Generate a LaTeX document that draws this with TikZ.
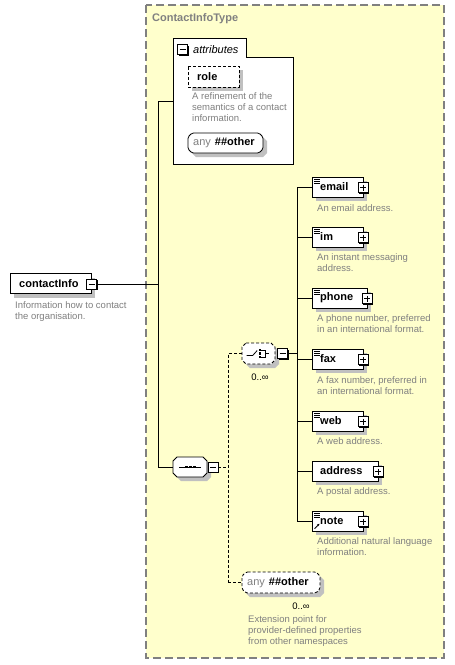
\documentclass[tikz,border=0pt]{standalone}
\usepackage{fontspec}
\setmainfont{Liberation Sans}
\usetikzlibrary{arrows.meta}
\definecolor{boxyellow}{RGB}{255,255,204}
\definecolor{descgray}{RGB}{128,128,128}
\definecolor{shadowgray}{RGB}{192,192,192}
\definecolor{framegray}{RGB}{128,128,128}
\newcommand\myoct[5]{%
  \fill[shadowgray] (#1+8,#2+4) -- (#3,#2+4) -- (#3+4,#2+8) -- (#3+4,#4) -- (#3,#4+4) -- (#1+8,#4+4) -- (#1+4,#4) -- (#1+4,#2+8) -- cycle;
  \draw[fill=white,line width=0.8pt,#5] (#1+4,#2) -- (#3-4,#2) -- (#3,#2+4) -- (#3,#4-4) -- (#3-4,#4) -- (#1+4,#4) -- (#1,#4-4) -- (#1,#2+4) -- cycle;}
\newcommand\myrect[5]{%
  \fill[shadowgray] (#1+4,#2+4) -- (#3+4,#2+4) -- (#3+4,#4+4) -- (#1+4,#4+4) -- cycle;
  \draw[fill=white,line width=0.8pt,#5] (#1,#2) -- (#3,#2) -- (#3,#4) -- (#1,#4) -- cycle;}
\newcommand\sqshadow[2]{\fill[black] (#1-3.8,#2-3.8) -- (#1+6.2,#2-3.8) -- (#1+6.2,#2+6.2) -- (#1-3.8,#2+6.2) -- cycle;}
\begin{document}
\begin{tikzpicture}[x=1pt,y=-1pt,
  holder/.style={inner sep=0,anchor=west},
  lbl/.style={anchor=west,inner sep=0,xshift=8pt,font=\fontsize{11}{13}\selectfont\bfseries},
  desc/.style={anchor=north west,inner sep=0,align=left,text=descgray,font=\fontsize{9.5}{11}\selectfont},
  sq/.style={draw,fill=white,line width=0.8pt,minimum size=10pt,inner sep=0},
  plusbox/.style={sq,path picture={\draw[line width=0.8pt]
    ([xshift=2pt]path picture bounding box.west) -- ([xshift=-2pt]path picture bounding box.east)
    ([yshift=-2pt]path picture bounding box.north) -- ([yshift=2pt]path picture bounding box.south);}},
  minusbox/.style={sq,path picture={\draw[line width=0.8pt]
    ([xshift=2pt]path picture bounding box.west) -- ([xshift=-2pt]path picture bounding box.east);}},
  sdash/.style={dash pattern=on 3pt off 2pt},
  conn/.style={line width=0.8pt},
  anytxt/.style={anchor=west,inner sep=0,font=\fontsize{11}{13}\selectfont\bfseries},
  mult/.style={inner sep=0,font=\fontsize{9.5}{11}\selectfont}
]
\useasboundingbox[fill=white] (0,0) rectangle (455,665);
% type frame
\draw[framegray,line width=1.2pt,dash pattern=on 8pt off 4pt,fill=boxyellow] (146,5) rectangle (444,658);
\node[anchor=west,inner sep=0,text=descgray,font=\fontsize{11}{13}\selectfont\bfseries] (title) at (152,19) {ContactInfoType};

% contactInfo
\myrect{10}{273.5}{91}{293.5}{}
\node[holder,minimum width=81pt,minimum height=20pt,label={[lbl,xshift=1pt]west:contactInfo}] (ci) at (10,283.5) {};
\sqshadow{91.5}{284}
\node[minusbox] (cim) at (91.5,284) {};
\node[desc] (cid) at (15,301.5) {Information how to contact\\the organisation.};

% attributes
\draw[fill=white,line width=0.8pt] (173,38) -- (246,38) -- (246,57) -- (293,57) -- (293,164) -- (173,164) -- cycle;
\sqshadow{182.5}{49.5}
\node[minusbox] (attrm) at (182.5,49.5) {};
\node[anchor=west,inner sep=0,font=\fontsize{11}{13}\selectfont\itshape] (attrt) at (193,49.5) {attributes};
\myrect{188}{66}{239}{87}{sdash}
\node[holder,minimum width=51pt,minimum height=21pt,label={[lbl,xshift=1pt]west:role}] (role) at (188,76.5) {};
\node[desc] (roled) at (192,92.5) {A refinement of the\\semantics of a contact\\information.};
\myoct{188}{133}{263}{153}{rounded corners=1.5pt}
\node[holder,minimum width=75pt,minimum height=20pt] (anyattr) at (188,143) {};
\node[anytxt] (anyattrt) at (193,143) {{\color{descgray}\mdseries any}\hspace{4pt}\#\#other};

% connectors to the type
\coordinate (b1t) at (158,101);
\coordinate (b1b) at (158,467);
\coordinate (attrL) at (173,101);
\draw[conn] (cim.east) -- (cim.east -| b1t);
\draw[conn] (attrL) -- (b1t) -- (b1b);

% sequence
\myoct{173}{457}{207}{477}{}
\node[holder,minimum width=34pt,minimum height=20pt] (seq) at (173,467) {};
\begin{scope}[shift={(seq.center)}]
  \draw[line width=0.8pt] (-11,0) -- (11,0);
  \foreach \dx in {-4,0,4} \fill (\dx-1.3,-1.3) rectangle (\dx+1.3,1.3);
\end{scope}
\sqshadow{213}{467}
\node[minusbox] (seqm) at (213,467) {};
\draw[conn] (b1b) -- (seq.west);

% choice
\myoct{242}{343}{275}{364}{sdash}
\node[holder,minimum width=33pt,minimum height=21pt] (cho) at (242,353.5) {};
\begin{scope}[shift={(cho.center)}]
  \draw[line width=0.8pt] (-12,2) -- (-6,2) -- (-1.5,-3);
  \foreach \dy in {-3.5,0,3.5} \fill (0,\dy-1.2) rectangle (2.4,\dy+1.2);
  \draw[line width=0.8pt] (2.4,-3.5) -- (7,-3.5) -- (7,3.5) -- (2.4,3.5) (7,0) -- (10,0);
\end{scope}
\sqshadow{282.5}{353.5}
\node[minusbox] (chom) at (282.5,353.5) {};
\node[mult] (chomult) at (260,377) {0..∞};

\coordinate (d1t) at (228,353.5);
\coordinate (d1b) at (228,582.5);
\draw[conn,sdash] (seqm.east) -- (seqm.east -| d1t);
\draw[conn,sdash] (cho.west) -- (d1t) -- (d1b);

% any other (bottom)
\myoct{242}{572}{320}{593}{sdash,rounded corners=1.5pt}
\node[holder,minimum width=78pt,minimum height=21pt] (anyb) at (242,582.5) {};
\node[anytxt] (anybt) at (247,582.5) {{\color{descgray}\mdseries any}\hspace{4pt}\#\#other};
\node[mult] (anybmult) at (301,606) {0..∞};
\node[desc] (anybd) at (248,615.5) {Extension point for\\provider-defined properties\\from other namespaces};
\draw[conn,sdash] (d1b) -- (anyb.west);

% elements
\coordinate (b2t) at (297,187);
\coordinate (b2b) at (297,521);
\draw[conn] (chom.east) -- (chom.east -| b2t);
\draw[conn] (b2t) -- (b2b);

\foreach \n/\w/\yc in {email/51/187,im/51/237,phone/55/298,fax/51/359,web/51/421,address/66/471,note/51/521}{
  \myrect{312}{\yc-10}{312+\w}{\yc+10}{}
  \node[holder,minimum width=\w pt,minimum height=20pt,label={[lbl]west:\n}] (\n) at (312,\yc) {};
  \sqshadow{312+\w}{\yc+0.5}
  \node[plusbox] (\n p) at (312+\w,\yc+0.5) {};
  \draw[conn] (\n.west -| b2t) -- (\n.west);
}
\node[desc] (emaild) at (317,204.5) {An email address.};
\node[desc] (imd) at (317,253.5) {An instant messaging\\address.};
\node[desc] (phoned) at (317,314.5) {A phone number, preferred\\in an international format.};
\node[desc] (faxd) at (317,376) {A fax number, preferred in\\an international format.};
\node[desc] (webd) at (317,437.5) {A web address.};
\node[desc] (addressd) at (317,487.5) {A postal address.};
\node[desc] (noted) at (317,537.5) {Additional natural language\\information.};

\foreach \n in {email,im,phone,fax,web,note}{
  \draw[line width=0.7pt] ([shift={(2pt,-2.5pt)}]\n.north west) -- ++(6,0) ++(-6,2) -- ++(6,0) ++(-6,2) -- ++(6,0);
}
\draw[line width=0.8pt,-{Stealth[length=2.5pt,width=2.5pt]}] ([shift={(2.5pt,2.5pt)}]note.south west) -- ++(5,-5);
\end{tikzpicture}
\end{document}
